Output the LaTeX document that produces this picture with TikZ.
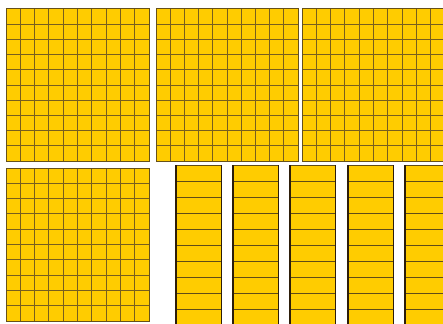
\documentclass[tikz,border=0pt]{standalone}
\definecolor{gold}{RGB}{255,204,0}
\definecolor{gline}{RGB}{120,95,30}
\definecolor{rodedge}{RGB}{45,30,10}
\newcommand\hundredgrid[4]{%
  \fill[gold] (#1,#2) rectangle (#3,#4);
  \foreach \i in {1,...,9}{
    \draw[gridline] ({#1+(#3-#1)*\i/10},#2) -- ({#1+(#3-#1)*\i/10},#4);
    \draw[gridline] (#1,{#2+(#4-#2)*\i/10}) -- (#3,{#2+(#4-#2)*\i/10});
  }
  \draw[gridborder] (#1,#2) rectangle (#3,#4);
}
\newcommand\tenrod[4]{%
  \fill[gold] (#1,#2) rectangle (#3,#4);
  \foreach \i in {1,...,9}{
    \draw[rodline] (#1,{#2+(#4-#2)*\i/10}) -- (#3,{#2+(#4-#2)*\i/10});
  }
  \draw[rodline] (#1,#2) -- (#3,#2);
  \draw[rodright] (#3,#2) -- (#3,#4);
  \draw[rodleft] (#1,#2) -- (#1,#4);
}
\tikzset{
  gridline/.style={draw=gline, line width=0.9pt},
  gridborder/.style={draw=gline!85!black, line width=1pt},
  rodline/.style={draw=gline!80!black, line width=1pt},
  rodright/.style={draw=rodedge, line width=1.3pt},
  rodleft/.style={draw=rodedge, line width=2.6pt},
}
\begin{document}
\begin{tikzpicture}[x=1pt,y=-1pt]
\useasboundingbox (0,0) rectangle (443,323);
\fill[white] (0,0) rectangle (443,323);
\clip (0,0) rectangle (443,323);
\hundredgrid{6}{9}{149}{161}
\hundredgrid{156}{9}{298}{161}
\hundredgrid{302}{9}{445}{161}
\hundredgrid{6}{168}{149}{321}
\foreach \x in {176,233,290,348,405}{
  \tenrod{\x}{165}{\x+45.5}{325}
}
\end{tikzpicture}
\end{document}
